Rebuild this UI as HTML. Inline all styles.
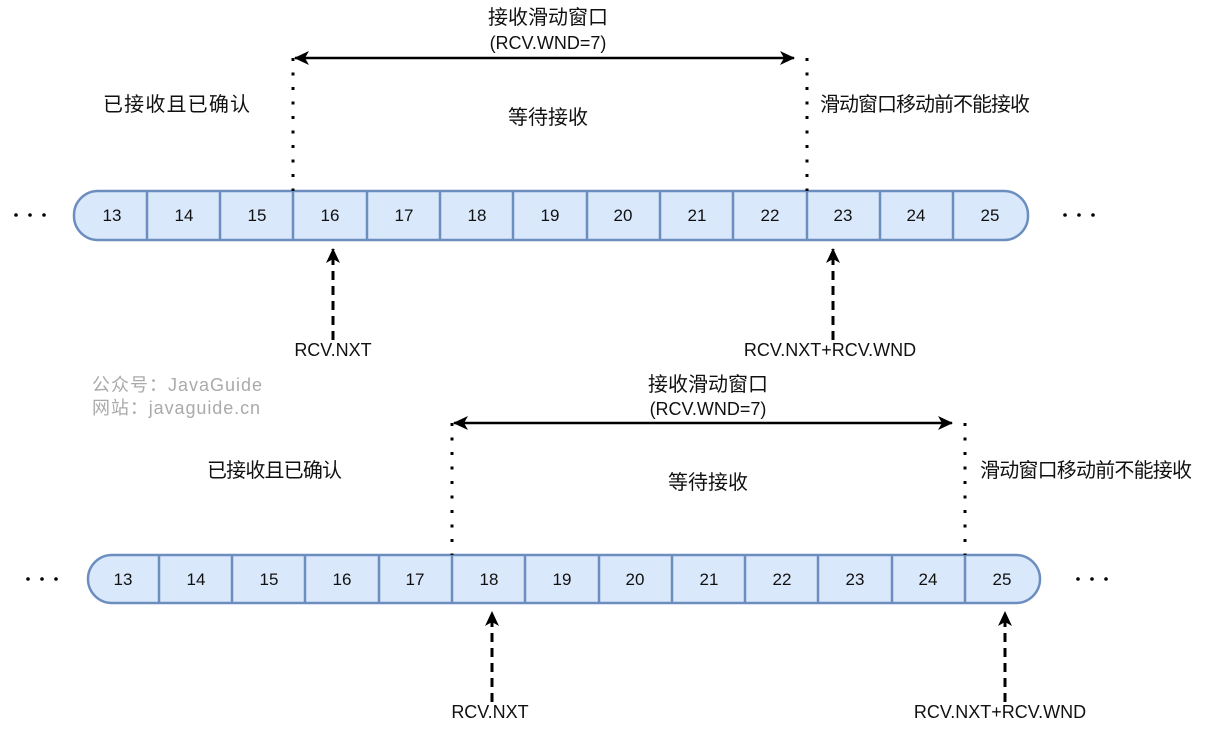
<!DOCTYPE html>
<html><head><meta charset="utf-8"><style>
body{margin:0;background:#fff}
svg text{font-family:"Liberation Sans","Noto Sans CJK SC",sans-serif;font-size:18px;fill:#111}
svg text.n{font-size:17px}
svg text.c{font-size:20px}
</style></head><body>
<svg width="1208" height="736" viewBox="0 0 1208 736" xmlns="http://www.w3.org/2000/svg">
<defs>
<marker id="ah" markerWidth="16" markerHeight="14" refX="14" refY="7" orient="auto-start-reverse" markerUnits="userSpaceOnUse"><path d="M0,0 L15,7 L0,14 L4,7 Z" fill="#000"/></marker>
</defs>
<rect x="74" y="191" width="954" height="49" rx="24" fill="#dae8fc" stroke="#6c8ebf" stroke-width="2.5"/>
<g stroke="#6c8ebf" stroke-width="2.5">
<line x1="147" y1="191" x2="147" y2="240"/><line x1="220" y1="191" x2="220" y2="240"/><line x1="293" y1="191" x2="293" y2="240"/><line x1="367" y1="191" x2="367" y2="240"/><line x1="440" y1="191" x2="440" y2="240"/><line x1="513" y1="191" x2="513" y2="240"/><line x1="587" y1="191" x2="587" y2="240"/><line x1="660" y1="191" x2="660" y2="240"/><line x1="733" y1="191" x2="733" y2="240"/><line x1="807" y1="191" x2="807" y2="240"/><line x1="880" y1="191" x2="880" y2="240"/><line x1="953" y1="191" x2="953" y2="240"/>
</g>
<g text-anchor="middle">
<text class="n" x="112" y="221">13</text><text class="n" x="184" y="221">14</text><text class="n" x="257" y="221">15</text><text class="n" x="330" y="221">16</text><text class="n" x="404" y="221">17</text><text class="n" x="477" y="221">18</text><text class="n" x="550" y="221">19</text><text class="n" x="623" y="221">20</text><text class="n" x="697" y="221">21</text><text class="n" x="770" y="221">22</text><text class="n" x="843" y="221">23</text><text class="n" x="916" y="221">24</text><text class="n" x="990" y="221">25</text>
</g>
<rect x="88" y="555" width="952" height="48" rx="24" fill="#dae8fc" stroke="#6c8ebf" stroke-width="2.5"/>
<g stroke="#6c8ebf" stroke-width="2.5">
<line x1="159" y1="555" x2="159" y2="603"/><line x1="232" y1="555" x2="232" y2="603"/><line x1="305" y1="555" x2="305" y2="603"/><line x1="379" y1="555" x2="379" y2="603"/><line x1="452" y1="555" x2="452" y2="603"/><line x1="525" y1="555" x2="525" y2="603"/><line x1="599" y1="555" x2="599" y2="603"/><line x1="672" y1="555" x2="672" y2="603"/><line x1="745" y1="555" x2="745" y2="603"/><line x1="818" y1="555" x2="818" y2="603"/><line x1="892" y1="555" x2="892" y2="603"/><line x1="965" y1="555" x2="965" y2="603"/>
</g>
<g text-anchor="middle">
<text class="n" x="123" y="585">13</text><text class="n" x="196" y="585">14</text><text class="n" x="269" y="585">15</text><text class="n" x="342" y="585">16</text><text class="n" x="415" y="585">17</text><text class="n" x="489" y="585">18</text><text class="n" x="562" y="585">19</text><text class="n" x="635" y="585">20</text><text class="n" x="709" y="585">21</text><text class="n" x="782" y="585">22</text><text class="n" x="855" y="585">23</text><text class="n" x="928" y="585">24</text><text class="n" x="1002" y="585">25</text>
</g>
<g fill="#000">
<circle cx="16" cy="215" r="1.8"/><circle cx="30" cy="215" r="1.8"/><circle cx="44" cy="215" r="1.8"/>
<circle cx="1065" cy="215" r="1.8"/><circle cx="1079" cy="215" r="1.8"/><circle cx="1093" cy="215" r="1.8"/>
<circle cx="28" cy="579" r="1.8"/><circle cx="42" cy="579" r="1.8"/><circle cx="56" cy="579" r="1.8"/>
<circle cx="1078" cy="579" r="1.8"/><circle cx="1092" cy="579" r="1.8"/><circle cx="1106" cy="579" r="1.8"/>
</g>
<g stroke="#000" stroke-width="3" stroke-dasharray="3 11.5">
<line x1="293" y1="58" x2="293" y2="191"/><line x1="807" y1="58" x2="807" y2="191"/>
<line x1="452" y1="423" x2="452" y2="555"/><line x1="965" y1="423" x2="965" y2="555"/>
</g>
<line x1="295" y1="58" x2="794" y2="58" stroke="#000" stroke-width="2.5" marker-start="url(#ah)" marker-end="url(#ah)"/>
<line x1="454" y1="423" x2="952" y2="423" stroke="#000" stroke-width="2.5" marker-start="url(#ah)" marker-end="url(#ah)"/>
<g stroke="#000" stroke-width="3" stroke-dasharray="9 6">
<line x1="333" y1="340" x2="333" y2="249" marker-end="url(#ah)"/>
<line x1="833" y1="340" x2="833" y2="249" marker-end="url(#ah)"/>
<line x1="492" y1="702" x2="492" y2="612" marker-end="url(#ah)"/>
<line x1="1005" y1="702" x2="1005" y2="612" marker-end="url(#ah)"/>
</g>
<g text-anchor="middle">
<text x="333" y="356">RCV.NXT</text>
<text x="830" y="356">RCV.NXT+RCV.WND</text>
<text x="490" y="718">RCV.NXT</text>
<text x="1000" y="718">RCV.NXT+RCV.WND</text>
<text class="c" x="548" y="24">接收滑动窗口</text>
<text x="548" y="49">(RCV.WND=7)</text>
<text class="c" x="708" y="391">接收滑动窗口</text>
<text x="708" y="415">(RCV.WND=7)</text>
<text class="c" x="548" y="124">等待接收</text>
<text class="c" x="708" y="489">等待接收</text>
</g>
<text class="c" x="103" y="111" textLength="147">已接收且已确认</text>
<text class="c" x="820" y="111" textLength="210">滑动窗口移动前不能接收</text>
<text class="c" x="207" y="477" textLength="135">已接收且已确认</text>
<text class="c" x="980" y="477" textLength="212">滑动窗口移动前不能接收</text>
<text x="92" y="391" style="fill:#aaa;font-size:18px" textLength="170">公众号：JavaGuide</text>
<text x="92" y="414" style="fill:#aaa;font-size:18px" textLength="168">网站：javaguide.cn</text>
</svg>
</body></html>
